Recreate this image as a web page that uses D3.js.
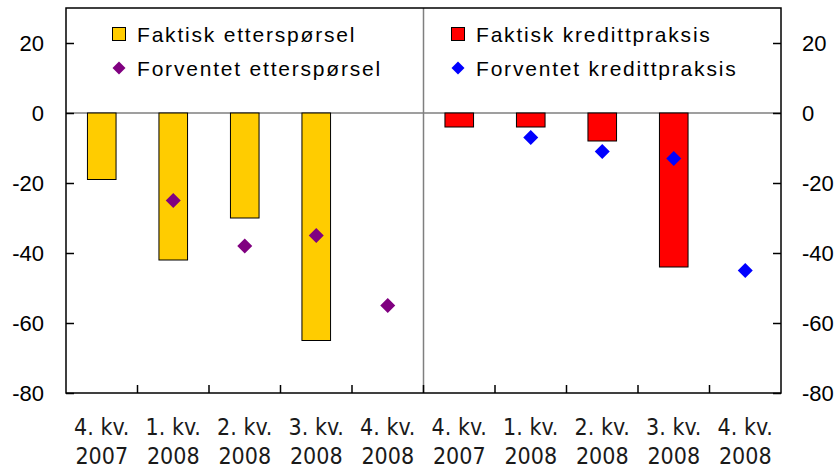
<!DOCTYPE html>
<html>
<head>
<meta charset="utf-8">
<script src="https://cdn.jsdelivr.net/npm/d3@7/dist/d3.min.js"></script>
<style>
  html, body { margin: 0; padding: 0; background: #fff; }
  svg { display: block; }
</style>
</head>
<body>
<div id="chart"></div>
<script>
// Quarter labels: first five for demand, last five for credit practice
const quarters = ["4. kv.|2007", "1. kv.|2008", "2. kv.|2008", "3. kv.|2008", "4. kv.|2008",
                  "4. kv.|2007", "1. kv.|2008", "2. kv.|2008", "3. kv.|2008", "4. kv.|2008"];
const slots = d3.range(quarters.length);

// Net percentage balances
const faktiskEtterspørsel   = [-19, -42, -30, -65, null];
const forventetEtterspørsel = [null, -25, -38, -35, -55];
const faktiskKredittpraksis   = [-4, -4, -8, -44, null];
const forventetKredittpraksis = [null, -7, -11, -13, -45];

const yTicks = [-80, -60, -40, -20, 0, 20];
const yDomain = [-80, 30];

const W = 840, H = 471;
const margin = { top: 8, right: 59, bottom: 78, left: 66 };
const iw = W - margin.left - margin.right;
const ih = H - margin.top - margin.bottom;

const svg = d3.select("#chart").append("svg").attr("width", W).attr("height", H);
const g = svg.append("g").attr("transform", `translate(${margin.left},${margin.top})`);

const x = d3.scaleBand().domain(slots).range([0, iw]).paddingInner(0).paddingOuter(0);
const y = d3.scaleLinear().domain(yDomain).range([ih, 0]);
const barW = x.bandwidth() * 0.4;

// Zero line and the divider between the two panels
g.append("line").attr("x1", 0).attr("x2", iw).attr("y1", y(0)).attr("y2", y(0))
  .attr("stroke", "#7f7f7f").attr("stroke-width", 1.5);
g.append("line").attr("x1", x(5)).attr("x2", x(5)).attr("y1", 0).attr("y2", ih)
  .attr("stroke", "#7f7f7f").attr("stroke-width", 1.5);

// Bars
const barData = faktiskEtterspørsel.map((v, i) => ({ i, v, c: "#FFCC00" }))
  .concat(faktiskKredittpraksis.map((v, i) => ({ i: i + 5, v, c: "#FF0000" })))
  .filter(d => d.v !== null);
g.selectAll("rect.bar").data(barData).join("rect").attr("class", "bar")
  .attr("x", d => x(d.i) + (x.bandwidth() - barW) / 2)
  .attr("y", d => y(Math.max(0, d.v)))
  .attr("width", barW)
  .attr("height", d => Math.abs(y(d.v) - y(0)))
  .attr("fill", d => d.c).attr("stroke", "#000").attr("stroke-width", 1);

// Diamonds
const diamond = s => `M0,${-s}L${s},0L0,${s}L${-s},0Z`;
const ptData = forventetEtterspørsel.map((v, i) => ({ i, v, c: "#800080" }))
  .concat(forventetKredittpraksis.map((v, i) => ({ i: i + 5, v, c: "#0000FF" })))
  .filter(d => d.v !== null);
g.selectAll("path.pt").data(ptData).join("path").attr("class", "pt")
  .attr("d", diamond(7.5))
  .attr("transform", d => `translate(${x(d.i) + x.bandwidth() / 2},${y(d.v)})`)
  .attr("fill", d => d.c);

// Frame
g.append("rect").attr("x", 0).attr("y", 0).attr("width", iw).attr("height", ih)
  .attr("fill", "none").attr("stroke", "#000").attr("stroke-width", 1.5);

// Y axes (ticks point inward), plain hyphen for negatives
const tickFont = "'Liberation Sans', Arial, sans-serif";
const fmt = d => String(d);
const yLeft = g.append("g").call(d3.axisLeft(y).tickValues(yTicks).tickSize(-8).tickPadding(22).tickFormat(fmt));
const yRight = g.append("g").attr("transform", `translate(${iw},0)`)
  .call(d3.axisRight(y).tickValues(yTicks).tickSize(-8).tickPadding(21).tickFormat(fmt));
[yLeft, yRight].forEach(ax => {
  ax.select(".domain").remove();
  ax.selectAll(".tick line").attr("stroke", "#000").attr("stroke-width", 1.5);
  ax.selectAll(".tick text").attr("font-family", tickFont).attr("font-size", 22).attr("fill", "#000");
});

// X axis: ticks at band boundaries, pointing up
const xb = g.append("g").attr("transform", `translate(0,${ih})`);
xb.selectAll("line").data(d3.range(1, quarters.length)).join("line")
  .attr("x1", d => x(d)).attr("x2", d => x(d)).attr("y1", 0).attr("y2", -8)
  .attr("stroke", "#000").attr("stroke-width", 1.5);
const xl = xb.selectAll("text").data(slots).join("text")
  .attr("x", d => x(d) + x.bandwidth() / 2)
  .attr("text-anchor", "middle")
  .attr("font-family", "'Liberation Sans Narrow', 'Arial Narrow', 'DejaVu Sans Condensed', sans-serif")
  .attr("font-size", 23).attr("fill", "#1a1a1a");
xl.append("tspan").attr("x", d => x(d) + x.bandwidth() / 2).attr("y", 42).text(d => quarters[d].split("|")[0]);
xl.append("tspan").attr("x", d => x(d) + x.bandwidth() / 2).attr("y", 71).text(d => quarters[d].split("|")[1]);

// Legend
const legend = [
  { label: "Faktisk etterspørsel", type: "square", c: "#FFCC00", x: 119, y: 34 },
  { label: "Forventet etterspørsel", type: "diamond", c: "#800080", x: 119, y: 68 },
  { label: "Faktisk kredittpraksis", type: "square", c: "#FF0000", x: 458, y: 34 },
  { label: "Forventet kredittpraksis", type: "diamond", c: "#0000FF", x: 458, y: 68 }
];
const lg = svg.append("g");
legend.forEach(l => {
  if (l.type === "square") {
    lg.append("rect").attr("x", l.x - 6.5).attr("y", l.y - 6.5).attr("width", 13).attr("height", 13)
      .attr("fill", l.c).attr("stroke", "#000").attr("stroke-width", 1);
  } else {
    lg.append("path").attr("d", diamond(6.5)).attr("transform", `translate(${l.x},${l.y})`).attr("fill", l.c);
  }
  lg.append("text").attr("x", l.x + 18).attr("y", l.y + 8)
    .attr("font-family", tickFont).attr("font-size", 21).attr("letter-spacing", 1.8)
    .attr("fill", "#000").text(l.label);
});
</script>
</body>
</html>
